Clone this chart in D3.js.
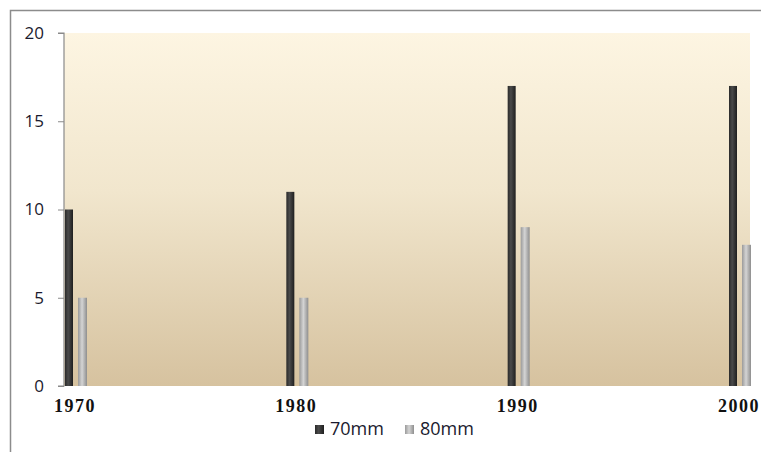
<!DOCTYPE html>
<html>
<head>
<meta charset="utf-8">
<script src="https://cdn.jsdelivr.net/npm/d3@7"></script>
<style>
  html, body { margin: 0; padding: 0; background: #fff; }
  svg { display: block; }
</style>
</head>
<body>
<svg id="chart" width="761" height="452"></svg>
<script>
// Years on the horizontal axis
const years = [1970, 1980, 1990, 2000];
// Series values (count per year)
const series70mm = [10, 11, 17, 17];
const series80mm = [5, 5, 9, 8];
const seriesNames = ["70mm", "80mm"];
const yTicks = [0, 5, 10, 15, 20];

const svg = d3.select("#chart");
const W = 761, H = 452;
const plot = { left: 64, right: 750, top: 33, bottom: 386 };

const defs = svg.append("defs");

// Plot background: cream at the top fading to tan at the bottom
const bg = defs.append("linearGradient").attr("id", "bgGrad")
  .attr("x1", 0).attr("y1", 0).attr("x2", 0).attr("y2", 1);
bg.append("stop").attr("offset", "0%").attr("stop-color", "#fdf5e2");
bg.append("stop").attr("offset", "45%").attr("stop-color", "#f1e6cd");
bg.append("stop").attr("offset", "100%").attr("stop-color", "#d6c29f");

// Cylinder-like shading for the two bar series
function barGrad(id, stops) {
  const g = defs.append("linearGradient").attr("id", id)
    .attr("x1", 0).attr("y1", 0).attr("x2", 1).attr("y2", 0);
  stops.forEach(([o, c]) => g.append("stop").attr("offset", o).attr("stop-color", c));
}
barGrad("dark", [["0%", "#2a2a2a"], ["40%", "#4a4a4a"], ["100%", "#1f1f1f"]]);
barGrad("light", [["0%", "#9a9a9a"], ["45%", "#d4d4d4"], ["100%", "#8e8e8e"]]);

// Outer frame (runs off the right and bottom edges)
svg.append("rect")
  .attr("x", 10.5).attr("y", 10.5).attr("width", W + 10).attr("height", H + 10)
  .attr("fill", "none").attr("stroke", "#8c8c8c").attr("stroke-width", 1.5);

svg.append("rect")
  .attr("x", plot.left).attr("y", plot.top)
  .attr("width", plot.right - plot.left).attr("height", plot.bottom - plot.top)
  .attr("fill", "url(#bgGrad)");

const y = d3.scaleLinear().domain([0, 20]).range([plot.bottom, plot.top]);
// Group centres for each year
const x = d3.scaleLinear().domain([1970, 2000]).range([75, 739]);

// Y axis
const yAxis = svg.append("g")
  .attr("transform", `translate(${plot.left},0)`)
  .call(d3.axisLeft(y).tickValues(yTicks).tickSize(6).tickPadding(14));
yAxis.select(".domain").attr("stroke", "#8a8a8a").attr("stroke-width", 1.2)
  .attr("d", `M-6,${plot.top}H0V${plot.bottom}H-6`);
yAxis.selectAll(".tick line").attr("stroke", "#8a8a8a");
yAxis.selectAll(".tick text")
  .attr("font-family", "'Open Sans', 'Liberation Sans', sans-serif")
  .attr("font-size", 17).attr("fill", "#1a1a2e");

// Bars
const data = years.map((yr, i) => ({ year: yr, a: series70mm[i], b: series80mm[i] }));
const barW = 8;
const g = svg.append("g");
g.selectAll("rect.s70").data(data).join("rect").attr("class", "s70")
  .attr("x", d => x(d.year) - 10).attr("width", barW)
  .attr("y", d => y(d.a)).attr("height", d => y(0) - y(d.a))
  .attr("fill", "url(#dark)");
g.selectAll("rect.s80").data(data).join("rect").attr("class", "s80")
  .attr("x", d => x(d.year) + 3).attr("width", barW + 1)
  .attr("y", d => y(d.b)).attr("height", d => y(0) - y(d.b))
  .attr("fill", "url(#light)");

// Year labels
svg.selectAll("text.year").data(years).join("text").attr("class", "year")
  .attr("x", d => x(d)).attr("y", 412)
  .attr("text-anchor", "middle")
  .attr("font-family", "'Liberation Serif', 'DejaVu Serif', serif")
  .attr("font-weight", "bold").attr("font-size", 18).attr("letter-spacing", 1.5)
  .attr("fill", "#111")
  .text(d => d);

// Legend
const legend = svg.append("g").attr("transform", "translate(315,430)");
const legendFill = ["url(#dark)", "url(#light)"];
const legendX = [0, 90];
seriesNames.forEach((name, i) => {
  legend.append("rect").attr("x", legendX[i]).attr("y", -5).attr("width", 9).attr("height", 9)
    .attr("fill", legendFill[i]);
  legend.append("text").attr("x", legendX[i] + 15).attr("y", 0)
    .attr("dominant-baseline", "middle")
    .attr("font-family", "'Open Sans', 'Liberation Sans', sans-serif")
    .attr("font-size", 18).attr("fill", "#1a1a2e")
    .text(name);
});
</script>
</body>
</html>
